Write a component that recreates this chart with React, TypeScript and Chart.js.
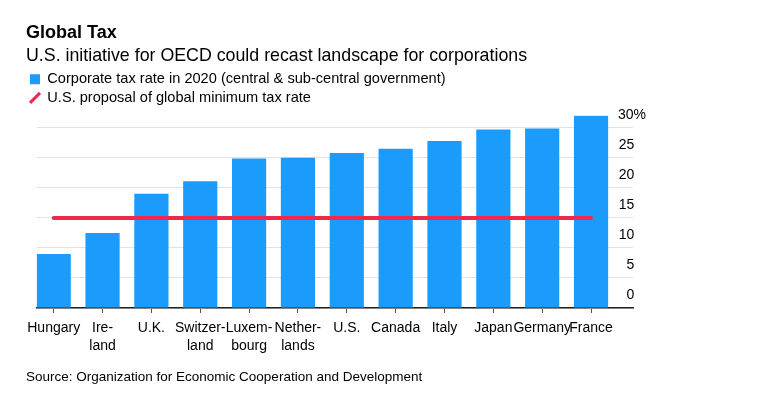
import React, { useEffect, useRef } from 'react';
import { Chart, registerables } from 'chart.js';

Chart.register(...registerables);

const FONT = "'Liberation Sans', Arial, Helvetica, sans-serif";

const chartTitle = 'Global Tax';
const chartSubtitle = 'U.S. initiative for OECD could recast landscape for corporations';
const sourceNote = 'Source: Organization for Economic Cooperation and Development';
const seriesNames = [
  'Corporate tax rate in 2020 (central & sub-central government)',
  'U.S. proposal of global minimum tax rate',
];

const categories: (string | string[])[] = [
  'Hungary',
  ['Ire-', 'land'],
  'U.K.',
  ['Switzer-', 'land'],
  ['Luxem-', 'bourg'],
  ['Nether-', 'lands'],
  'U.S.',
  'Canada',
  'Italy',
  'Japan',
  'Germany',
  'France',
];
const taxRates = [9, 12.5, 19, 21.1, 24.9, 25, 25.8, 26.5, 27.8, 29.7, 29.9, 32];
const proposedMinimum = 15;
const yTickValues = [0, 5, 10, 15, 20, 25, 30];

const BAR_BLUE = '#1b9bfb';
const LINE_RED = '#f0284b';

export default function App() {
  const canvasRef = useRef<HTMLCanvasElement | null>(null);

  useEffect(() => {
    if (!canvasRef.current) return;
    const chart = new Chart(canvasRef.current, {
      type: 'bar',
      data: {
        datasets: [
          {
            type: 'line',
            label: seriesNames[1],
            data: categories.map((_, i) => ({ x: i, y: proposedMinimum })),
            borderColor: LINE_RED,
            borderWidth: 4,
            borderCapStyle: 'round',
            pointRadius: 0,
            fill: false,
            order: 0,
            xAxisID: 'x',
            yAxisID: 'y',
          } as any,
          {
            type: 'bar',
            label: seriesNames[0],
            data: taxRates.map((v, i) => ({ x: i, y: v })),
            backgroundColor: BAR_BLUE,
            borderWidth: 0,
            barPercentage: 0.7,
            categoryPercentage: 1,
            order: 1,
            xAxisID: 'x',
            yAxisID: 'y',
          } as any,
        ],
      },
      options: {
        animation: false,
        responsive: true,
        maintainAspectRatio: false,
        events: [],
        layout: { padding: { left: 26, right: 110, top: 0, bottom: 55 } },
        font: { family: FONT },
        plugins: {
          tooltip: { enabled: false },
          title: {
            display: true,
            text: chartTitle,
            align: 'start',
            color: '#000',
            font: { family: FONT, size: 18, weight: 'bold', lineHeight: 1.2 },
            padding: { top: 22, bottom: 1.5 },
          },
          subtitle: {
            display: true,
            text: chartSubtitle,
            align: 'start',
            color: '#000',
            font: { family: FONT, size: 17.8, weight: 'normal', lineHeight: 1.2 },
            padding: { top: 0, bottom: 1.5 },
          },
          legend: {
            display: true,
            position: 'top',
            align: 'start',
            labels: {
              usePointStyle: true,
              boxWidth: 10,
              boxHeight: 10,
              padding: 4,
              color: '#000',
              font: { family: FONT, size: 14.6 },
              generateLabels: () => [
                {
                  text: seriesNames[0],
                  fillStyle: BAR_BLUE,
                  strokeStyle: BAR_BLUE,
                  lineWidth: 0,
                  pointStyle: 'rect',
                  hidden: false,
                  datasetIndex: 1,
                } as any,
                {
                  text: seriesNames[1],
                  fillStyle: LINE_RED,
                  strokeStyle: LINE_RED,
                  lineWidth: 3,
                  pointStyle: 'line',
                  rotation: -45,
                  hidden: false,
                  datasetIndex: 0,
                } as any,
              ],
            },
          },
        },
        scales: {
          x: {
            type: 'linear',
            offset: false,
            min: -0.348,
            max: 11.859,
            afterBuildTicks: (scale: any) => {
              scale.ticks = categories.map((_, i) => ({ value: i }));
            },
            ticks: {
              autoSkip: false,
              maxRotation: 0,
              minRotation: 0,
              padding: 6,
              color: '#000',
              font: { family: FONT, size: 14, lineHeight: 18 / 14 },
              callback: (_v: any, index: number) => categories[index],
            },
            grid: {
              display: true,
              offset: false,
              drawOnChartArea: false,
              drawTicks: true,
              tickLength: 5,
              color: '#555',
              lineWidth: 1,
            },
            border: { display: true, color: '#222', width: 1.5 },
          },
          yLeft: {
            type: 'linear',
            position: 'left',
            display: true,
            ticks: { display: false },
            grid: { display: false, drawTicks: false },
            border: { display: false },
            afterFit: (scale: any) => {
              scale.width = 10.7;
            },
          },
          y: {
            type: 'linear',
            position: 'right',
            min: 0,
            max: 32.1,
            afterBuildTicks: (scale: any) => {
              scale.ticks = yTickValues.map((v) => ({ value: v }));
            },
            ticks: {
              mirror: true,
              padding: 13,
              labelOffset: -13,
              color: '#000',
              font: { family: FONT, size: 14 },
              callback: (v: any) => (v === 30 ? '30%' : String(v) + '   '),
            },
            grid: { color: '#e2e2e2', lineWidth: 1, drawTicks: false },
            border: { display: false },
          },
        },
      } as any,
    });
    return () => chart.destroy();
  }, []);

  return (
    <div style={{ position: 'absolute', left: 0, top: 0, width: 769, height: 416, background: '#fff' }}>
      <canvas ref={canvasRef} />
      <div
        style={{
          position: 'absolute',
          left: 26,
          top: 369.3,
          fontFamily: FONT,
          fontSize: 13.5,
          lineHeight: '16px',
          color: '#000',
          whiteSpace: 'nowrap',
        }}
      >
        {sourceNote}
      </div>
    </div>
  );
}
